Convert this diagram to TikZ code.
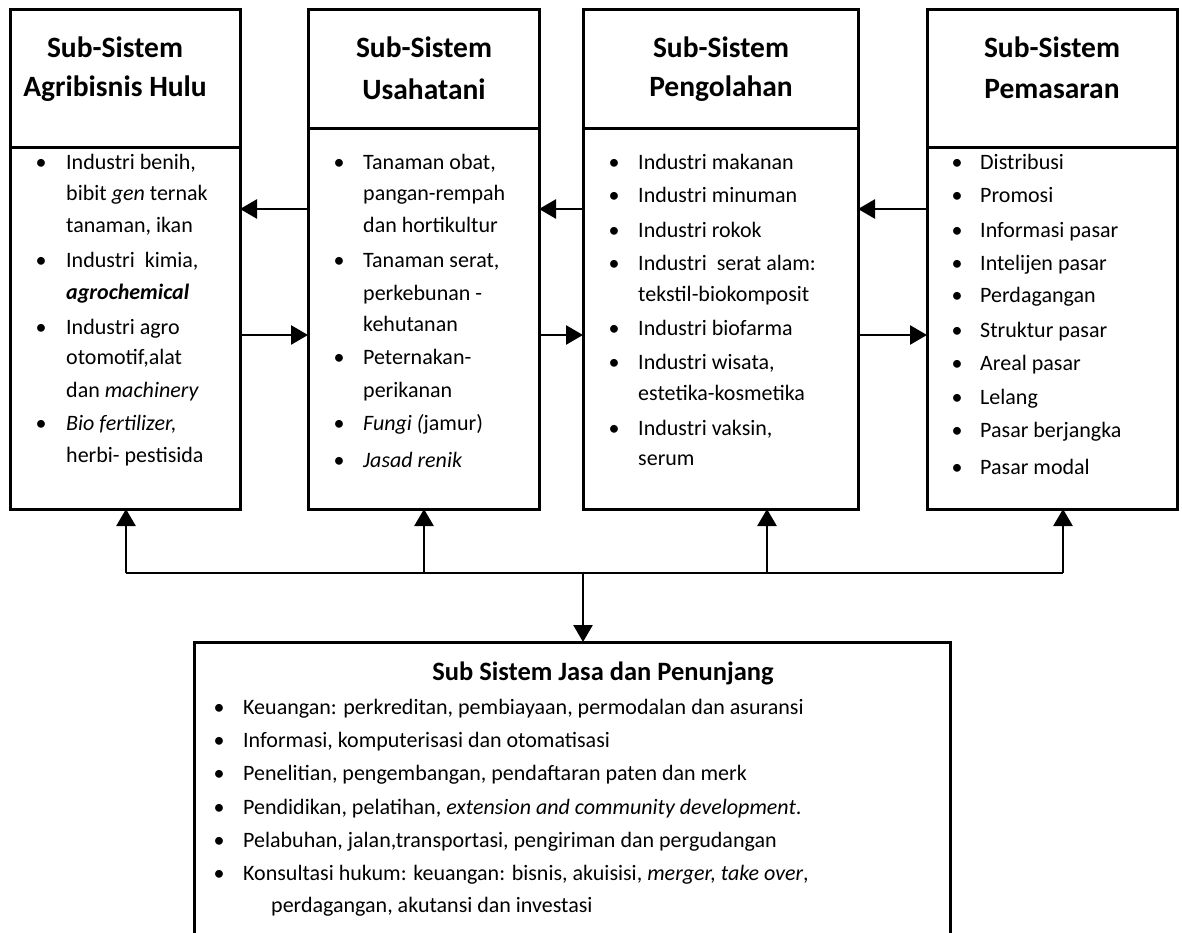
\documentclass[tikz,border=0pt]{standalone}
\usepackage{fontspec}
\setmainfont{Carlito}
\usetikzlibrary{arrows.meta,calc}
\newcommand{\bodyfont}{\fontsize{22}{26}\selectfont}
\newcommand{\titlefont}{\fontsize{29.5}{34}\selectfont\bfseries}
\begin{document}
\begin{tikzpicture}[x=1pt,y=-1pt,
  box/.style={draw=black,line width=3pt,outer sep=0pt,inner sep=0pt,anchor=north west},
  divider/.style={line width=3pt},
  conn/.style={line width=2.6pt,-{Triangle[length=17pt,width=19pt]}},
  busline/.style={line width=2.6pt},
  ttl/.style={font=\titlefont,anchor=center,inner sep=0pt},
  itm/.style={font=\bodyfont,anchor=base west,inner sep=0pt},
  bul/.style={font=\bodyfont,anchor=base,inner sep=0pt},
  jtitle/.style={font=\fontsize{26.5}{30}\selectfont\bfseries,anchor=center,inner sep=0pt}]
\useasboundingbox (0,0) rectangle (1182,933);
\clip (0,0) rectangle (1182,933);
\fill[white] (0,0) rectangle (1182,933);

% boxes
\node[box,minimum width=230pt,minimum height=499pt] (b1) at (10,10) {};
\node[box,minimum width=231pt,minimum height=499pt] (b2) at (308,10) {};
\node[box,minimum width=275pt,minimum height=499pt] (b3) at (583,10) {};
\node[box,minimum width=250pt,minimum height=499pt] (b4) at (927,10) {};
\node[box,minimum width=756pt,minimum height=320pt] (jasa) at (194,642) {};

% header dividers
\coordinate (d1) at (0,148);
\coordinate (d2) at (0,129);
\draw[divider] (b1.west |- d1) -- (b1.east |- d1);
\draw[divider] (b2.west |- d2) -- (b2.east |- d2);
\draw[divider] (b3.west |- d2) -- (b3.east |- d2);
\draw[divider] (b4.west |- d1) -- (b4.east |- d1);

% titles
\node[ttl] (t1a) at (115,47) {Sub-Sistem};
\node[ttl] (t1b) at (115,89) {Agribisnis Hulu};
\node[ttl] (t2a) at (424,47) {Sub-Sistem};
\node[ttl] (t2b) at (424,89) {Usahatani};
\node[ttl] (t3a) at (721,47) {Sub-Sistem};
\node[ttl] (t3b) at (721,89) {Pengolahan};
\node[ttl] (t4a) at (1052,47) {Sub-Sistem};
\node[ttl] (t4b) at (1052,89) {Pemasaran};

% box 1 items
\node[bul] (p1a) at (41,170) {\textbullet};
\node[itm] (i1a) at (66,170) {Industri benih,};
\node[itm] (i1b) at (66,201) {bibit \textit{gen} ternak};
\node[itm] (i1c) at (66,233) {tanaman, ikan};
\node[bul] (p1b) at (41,267) {\textbullet};
\node[itm] (i1d) at (66,267) {Industri\ \ kimia,};
\node[itm] (i1e) at (66,299) {\textbf{\textit{agrochemical}}};
\node[bul] (p1c) at (41,334) {\textbullet};
\node[itm] (i1f) at (66,334) {Industri agro};
\node[itm] (i1g) at (66,364) {otomotif,alat};
\node[itm] (i1h) at (66,397) {dan \textit{machinery}};
\node[bul] (p1d) at (41,430) {\textbullet};
\node[itm] (i1i) at (66,430) {\textit{Bio fertilizer,}};
\node[itm] (i1j) at (66,462) {herbi- pestisida};

% box 2 items
\node[bul] (p2a) at (339,170) {\textbullet};
\node[itm] (i2a) at (363,170) {Tanaman obat,};
\node[itm] (i2b) at (363,201) {pangan-rempah};
\node[itm] (i2c) at (363,233) {dan hortikultur};
\node[bul] (p2b) at (339,267) {\textbullet};
\node[itm] (i2d) at (363,267) {Tanaman serat,};
\node[itm] (i2e) at (363,300) {perkebunan -};
\node[itm] (i2f) at (363,331) {kehutanan};
\node[bul] (p2c) at (339,364) {\textbullet};
\node[itm] (i2g) at (363,364) {Peternakan-};
\node[itm] (i2h) at (363,397) {perikanan};
\node[bul] (p2d) at (339,430) {\textbullet};
\node[itm] (i2i) at (363,430) {\textit{Fungi (}jamur)};
\node[bul] (p2e) at (339,467) {\textbullet};
\node[itm] (i2j) at (363,467) {\textit{Jasad renik}};

% box 3 items
\node[bul] (p3a) at (614,170) {\textbullet};
\node[itm] (i3a) at (638,170) {Industri makanan};
\node[bul] (p3b) at (614,203) {\textbullet};
\node[itm] (i3b) at (638,203) {Industri minuman};
\node[bul] (p3c) at (614,237) {\textbullet};
\node[itm] (i3c) at (638,237) {Industri rokok};
\node[bul] (p3d) at (614,270) {\textbullet};
\node[itm] (i3d) at (638,270) {Industri\ \ serat alam:};
\node[itm] (i3e) at (638,301) {tekstil-biokomposit};
\node[bul] (p3e) at (614,335) {\textbullet};
\node[itm] (i3f) at (638,335) {Industri biofarma};
\node[bul] (p3f) at (614,369) {\textbullet};
\node[itm] (i3g) at (638,369) {Industri wisata,};
\node[itm] (i3h) at (638,400) {estetika-kosmetika};
\node[bul] (p3g) at (614,435) {\textbullet};
\node[itm] (i3i) at (638,435) {Industri vaksin,};
\node[itm] (i3j) at (638,465) {serum};

% box 4 items
\node[bul] (p4a) at (957,170) {\textbullet};
\node[itm] (i4a) at (980,170) {Distribusi};
\node[bul] (p4b) at (957,203) {\textbullet};
\node[itm] (i4b) at (980,203) {Promosi};
\node[bul] (p4c) at (957,237) {\textbullet};
\node[itm] (i4c) at (980,237) {Informasi pasar};
\node[bul] (p4d) at (957,270) {\textbullet};
\node[itm] (i4d) at (980,270) {Intelijen pasar};
\node[bul] (p4e) at (957,302) {\textbullet};
\node[itm] (i4e) at (980,302) {Perdagangan};
\node[bul] (p4f) at (957,337) {\textbullet};
\node[itm] (i4f) at (980,337) {Struktur pasar};
\node[bul] (p4g) at (957,370) {\textbullet};
\node[itm] (i4g) at (980,370) {Areal pasar};
\node[bul] (p4h) at (957,404) {\textbullet};
\node[itm] (i4h) at (980,404) {Lelang};
\node[bul] (p4i) at (957,437) {\textbullet};
\node[itm] (i4i) at (980,437) {Pasar berjangka};
\node[bul] (p4j) at (957,474) {\textbullet};
\node[itm] (i4j) at (980,474) {Pasar modal};

% bottom box
\node[jtitle] (jt) at (603,673) {Sub Sistem Jasa dan Penunjang};
\node[bul] (p5a) at (219,714) {\textbullet};
\node[itm] (i5a) at (243,714) {Keuangan: perkreditan, pembiayaan, permodalan dan asuransi};
\node[bul] (p5b) at (219,747) {\textbullet};
\node[itm] (i5b) at (243,747) {Informasi, komputerisasi dan otomatisasi};
\node[bul] (p5c) at (219,780) {\textbullet};
\node[itm] (i5c) at (243,780) {Penelitian, pengembangan, pendaftaran paten dan merk};
\node[bul] (p5d) at (219,814) {\textbullet};
\node[itm] (i5d) at (243,814) {Pendidikan, pelatihan, \textit{extension and community development}.};
\node[bul] (p5e) at (219,847) {\textbullet};
\node[itm] (i5e) at (243,847) {Pelabuhan, jalan,transportasi, pengiriman dan pergudangan};
\node[bul] (p5f) at (219,880) {\textbullet};
\node[itm] (i5f) at (243,880) {Konsultasi hukum: keuangan: bisnis, akuisisi, \textit{merger, take over},};
\node[itm] (i5g) at (271,912) {perdagangan, akutansi dan investasi};

% connectors
\coordinate (yU) at (0,209);
\coordinate (yL) at (0,335);
\coordinate (bus) at (583,573);
\draw[conn] (b2.west |- yU) -- (b1.east |- yU);
\draw[conn] (b3.west |- yU) -- (b2.east |- yU);
\draw[conn] (b4.west |- yU) -- (b3.east |- yU);
\draw[conn] (b1.east |- yL) -- (b2.west |- yL);
\draw[conn] (b2.east |- yL) -- (b3.west |- yL);
\draw[conn] (b3.east |- yL) -- (b4.west |- yL);

\coordinate (v1) at (126,573);
\coordinate (v2) at (424,573);
\coordinate (v3) at (767,573);
\coordinate (v4) at (1063,573);
\draw[busline] (v1) -- (v4);
\draw[conn] (v1) -- (v1 |- b1.south);
\draw[conn] (v2) -- (v2 |- b2.south);
\draw[conn] (v3) -- (v3 |- b3.south);
\draw[conn] (v4) -- (v4 |- b4.south);
\draw[conn] (bus) -- (bus |- jasa.north);
\end{tikzpicture}
\end{document}
